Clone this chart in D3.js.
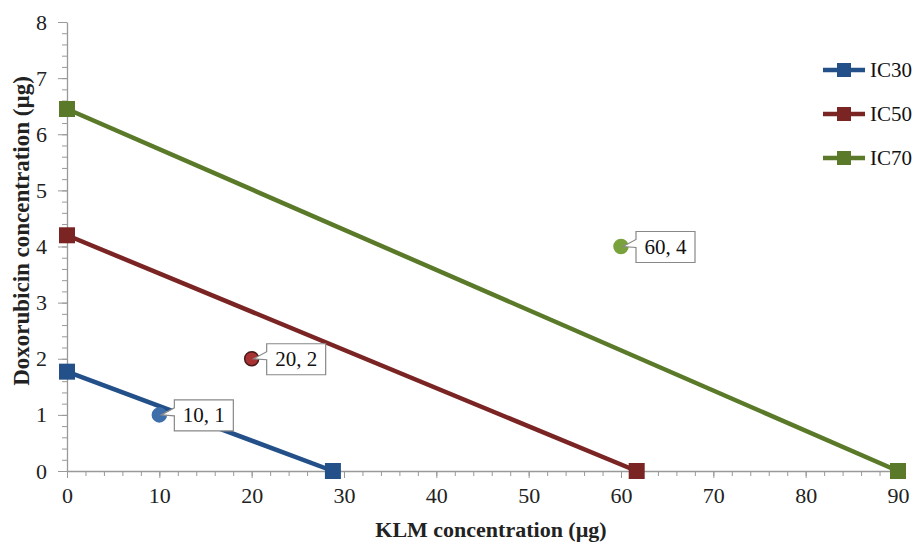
<!DOCTYPE html>
<html lang="en">
<head>
    <meta charset="UTF-8">
    <title>KLM vs Doxorubicin isobologram</title>
    <script src="https://d3js.org/d3.v7.min.js"></script>
    <style>
        body { margin: 0; background: #fff; }
        svg text { font-family: "Liberation Serif", "Times New Roman", serif; }
    </style>
</head>
<body>
    <svg width="919" height="542"></svg>

    <script>
        // Series: each IC line goes from the y intercept to the x intercept
        const seriesNames = ["IC30", "IC50", "IC70"];
        const seriesColors = ["#24508a", "#7a2424", "#5a7a2a"];
        const ic30 = [[0, 1.77], [28.8, 0]];
        const ic50 = [[0, 4.2], [61.7, 0]];
        const ic70 = [[0, 6.45], [90, 0]];

        // Combination points with labels
        const pointX = [10, 20, 60];
        const pointY = [1, 2, 4];
        const pointLabels = ["10, 1", "20, 2", "60, 4"];
        const pointFill = ["#3f6faa", "#a83232", "#7aa23c"];
        const pointStroke = ["#3f6faa", "#4a1a1a", "#7aa23c"];

        const xTicks = [0, 10, 20, 30, 40, 50, 60, 70, 80, 90];
        const yTicks = [0, 1, 2, 3, 4, 5, 6, 7, 8];

        const width = 919, height = 542;
        const margin = {top: 22, right: 21, bottom: 71, left: 67};
        const serif = "'Liberation Serif', 'Times New Roman', serif";

        const svg = d3.select("svg");

        const x = d3.scaleLinear().domain([0, 90]).range([margin.left, width - margin.right]);
        const y = d3.scaleLinear().domain([0, 8]).range([height - margin.bottom, margin.top]);

        // minor ticks
        const xMinor = d3.range(0, 91, 2);
        const yMinor = d3.range(0, 8.01, 0.2);

        svg.append("g")
            .attr("transform", `translate(0,${y(0)})`)
            .call(d3.axisBottom(x).tickValues(xMinor).tickSize(5).tickFormat(""))
            .call(g => g.select(".domain").remove())
            .selectAll("line").attr("stroke", "#999");

        svg.append("g")
            .attr("transform", `translate(${x(0)},0)`)
            .call(d3.axisLeft(y).tickValues(yMinor).tickSize(5).tickFormat(""))
            .call(g => g.select(".domain").remove())
            .selectAll("line").attr("stroke", "#999");

        // major axes
        const xAxis = svg.append("g")
            .attr("transform", `translate(0,${y(0)})`)
            .call(d3.axisBottom(x).tickValues(xTicks).tickSize(7).tickSizeOuter(0).tickPadding(9));
        const yAxis = svg.append("g")
            .attr("transform", `translate(${x(0)},0)`)
            .call(d3.axisLeft(y).tickValues(yTicks).tickSize(9).tickSizeOuter(0).tickPadding(11));

        [xAxis, yAxis].forEach(g => {
            g.attr("font-family", serif).attr("font-size", 22);
            g.select(".domain").attr("stroke", "#999").attr("stroke-width", 1.3);
            g.selectAll(".tick line").attr("stroke", "#999");
            g.selectAll(".tick text").attr("fill", "#222");
        });

        // axis titles
        svg.append("text")
            .attr("text-anchor", "middle")
            .attr("x", 491)
            .attr("y", 537)
            .attr("font-family", serif)
            .style("font-size", "22px")
            .style("font-weight", "bold")
            .attr("fill", "#222")
            .text("KLM concentration (µg)");

        svg.append("text")
            .attr("text-anchor", "middle")
            .attr("transform", "translate(29,231) rotate(-90)")
            .attr("font-family", serif)
            .style("font-size", "23px")
            .style("font-weight", "bold")
            .attr("fill", "#222")
            .text("Doxorubicin concentration (µg)");

        // lines
        const seriesData = [ic30, ic50, ic70];
        const line = d3.line().x(d => x(d[0])).y(d => y(d[1]));
        const ms = 16;

        seriesData.forEach((data, i) => {
            svg.append("path")
                .datum(data)
                .attr("fill", "none")
                .attr("stroke", seriesColors[i])
                .attr("stroke-width", 4.5)
                .attr("d", line);
            svg.selectAll(null)
                .data(data)
                .enter()
                .append("rect")
                .attr("x", d => x(d[0]) - ms / 2)
                .attr("y", d => y(d[1]) - ms / 2)
                .attr("width", ms)
                .attr("height", ms)
                .attr("fill", seriesColors[i]);
        });

        // combination points with callout labels
        pointX.forEach((px, i) => {
            const cx = x(px), cy = y(pointY[i]);
            const bx = cx + 15, by = cy - 15, bw = 59, bh = 31;
            const tailTop = by + 8, tailBot = by + 16;
            const p = `M${bx},${by} H${bx + bw} V${by + bh} H${bx} V${tailBot} L${cx + 2},${cy} L${bx},${tailTop} Z`;
            svg.append("circle")
                .attr("cx", cx).attr("cy", cy).attr("r", 7)
                .attr("fill", pointFill[i])
                .attr("stroke", pointStroke[i])
                .attr("stroke-width", 1.5);
            svg.append("path")
                .attr("d", p)
                .attr("fill", "#fff")
                .attr("stroke", "#888")
                .attr("stroke-width", 1.2);
            svg.append("text")
                .attr("x", bx + bw / 2)
                .attr("y", by + bh / 2 + 7)
                .attr("text-anchor", "middle")
                .attr("font-family", serif)
                .style("font-size", "21px")
                .attr("fill", "#111")
                .text(pointLabels[i]);
        });

        // legend
        const legend = svg.append("g").attr("transform", "translate(823,70)");
        seriesNames.forEach((name, i) => {
            const g = legend.append("g").attr("transform", `translate(0,${i * 44})`);
            g.append("line").attr("x1", 0).attr("x2", 42).attr("y1", 0).attr("y2", 0)
                .attr("stroke", seriesColors[i]).attr("stroke-width", 4.5);
            g.append("rect").attr("x", 14).attr("y", -7).attr("width", 14).attr("height", 14)
                .attr("fill", seriesColors[i]);
            g.append("text").attr("x", 47).attr("y", 7)
                .attr("font-family", serif)
                .style("font-size", "21px").attr("fill", "#111").text(name);
        });
    </script>
</body>
</html>
